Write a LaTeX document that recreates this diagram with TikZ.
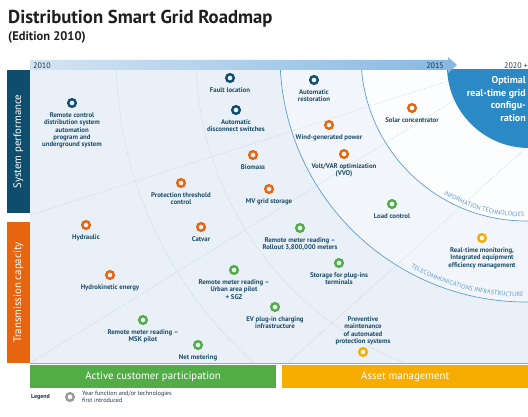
\documentclass[tikz,border=0pt]{standalone}
\usepackage{fontspec}
\setmainfont{PT Sans}
\usetikzlibrary{positioning, calc, decorations.text}

\definecolor{gridteal}{HTML}{0E4E6C}
\definecolor{gridorange}{HTML}{E8650F}
\definecolor{gridgreen}{HTML}{52AD46}
\definecolor{gridyellow}{HTML}{F7AC00}
\definecolor{gridblue}{HTML}{2B8AC6}
\definecolor{arcblue}{HTML}{5F9DD0}
\definecolor{paleblue}{HTML}{E9F0F7}
\definecolor{midpale}{HTML}{F2F6FB}
\definecolor{innerwhite}{HTML}{FCFDFE}
\definecolor{faint}{HTML}{BCCCDB}
\definecolor{labeltext}{HTML}{1D4E6A}
\definecolor{yeartext}{HTML}{1F3446}
\definecolor{barlight}{HTML}{D3E5F4}
\definecolor{bardark}{HTML}{86B8E2}
\definecolor{legendgray}{HTML}{9A9A9A}

\begin{document}
\begin{tikzpicture}[x=1pt, y=-1pt, node distance=4.5pt,
  every node/.style={inner sep=0pt},
  ring/.style={circle, draw=#1, line width=2.4pt, minimum size=7.6pt},
  tag/.style={font=\bfseries\fontsize{6.8}{7.3}\selectfont, text=labeltext, align=center},
  band/.style={font=\fontsize{10.8}{12}\selectfont, text=white, minimum height=23pt},
  year/.style={font=\fontsize{8}{9}\selectfont, text=yeartext},
  faintline/.style={draw=faint, line width=0.5pt, densely dotted},
  itline/.style={draw=arcblue, line width=0.7pt}]
  \useasboundingbox (0,0) rectangle (528,417);

  % title
  \node[anchor=base west, font=\bfseries\fontsize{18.7}{22}\selectfont, text=black!88] (title) at (8,23.5) {Distribution Smart Grid Roadmap};
  \node[anchor=base west, font=\bfseries\fontsize{12.5}{15}\selectfont, text=black!88] (edition) at (8,41) {(Edition 2010)};

  % background field, rings of the roadmap
  \coordinate (hub) at (526,56);
  \begin{scope}
    \clip (30,70) rectangle (528,363);
    \fill[paleblue] (30,70) rectangle (528,363);
    \fill[midpale] (hub) circle[radius=246];
    \fill[innerwhite] (hub) circle[radius=165];
    \draw[faintline] (hub) circle[radius=330];
    \draw[faintline] (hub) circle[radius=410];
    \draw[faintline] (30,215) -- (hub);
    \draw[faintline] (30,363) -- (hub);
    \draw[faintline] (288,363) -- (528,146);
    \draw[itline] (hub) circle[radius=165];
    \draw[itline] (hub) circle[radius=246];
    \fill[gridblue] (529,66) circle[radius=82];
  \end{scope}
  \draw[black!35, line width=0.6pt] (30,363.3) -- (528,363.3);

  \path[decorate, decoration={text along path, text align=right,
    text={|\fontsize{6.3}{7}\selectfont\color{arcblue}|INFORMATION TECHNOLOGIES}}]
    ($(hub)+(122:161)$) arc[start angle=122, end angle=90.6, radius=161];
  \path[decorate, decoration={text along path, text align=right,
    text={|\fontsize{6.3}{7}\selectfont\color{arcblue}|TELECOMMUNICATIONS INFRASTRUCTURE}}]
    ($(hub)+(120:241)$) arc[start angle=120, end angle=90.6, radius=241];

  \node[anchor=north east, align=right, text=white, font=\bfseries\fontsize{10}{12.8}\selectfont] (optimal) at (526,76) {Optimal\\real-time grid\\configu-\\ration};

  % timeline
  \shade[left color=barlight, right color=bardark] (30,60) -- (448,60) -- (448,57) -- (457,65) -- (448,73) -- (448,70) -- (30,70) -- cycle;
  \node[year, anchor=base west] (y2010) at (33,68.3) {2010};
  \node[year, anchor=base east] (y2015) at (444,68.3) {2015};
  \node[year, anchor=base east] (y2020) at (528,68.3) {2020 +};

  % side and bottom bands
  \node[band, fill=gridteal, rotate=90, minimum width=143pt] (sysperf) at (18.5,141.5) {System performance};
  \node[band, fill=gridorange, rotate=90, minimum width=141pt] (transcap) at (18.5,292.5) {Transmission capacity};
  \node[band, fill=gridgreen, anchor=north west, minimum width=246pt] (active) at (30,365) {Active customer participation};
  \node[band, fill=gridyellow, anchor=north west, minimum width=246pt] (asset) at (282,365) {Asset management};

  % system performance
  \node[ring=gridteal] (rcontrol) at (72,103) {};
  \node[tag, below=of rcontrol] (rcontroltxt) {Remote control\\distribution system\\automation\\program and\\underground system};
  \node[ring=gridteal] (fault) at (230,78) {};
  \node[tag, below=of fault] (faulttxt) {Fault location};
  \node[ring=gridteal] (disconnect) at (236,110) {};
  \node[tag, below=of disconnect] (disconnecttxt) {Automatic\\disconnect switches};
  \node[ring=gridteal] (restore) at (314,80) {};
  \node[tag, below=of restore] (restoretxt) {Automatic\\restoration};

  % transmission capacity
  \node[ring=gridorange] (biomass) at (253,155) {};
  \node[tag, below=of biomass] (biomasstxt) {Biomass};
  \node[ring=gridorange] (protect) at (181,183) {};
  \node[tag, below=of protect] (protecttxt) {Protection threshold\\control};
  \node[ring=gridorange] (mvgrid) at (269,189) {};
  \node[tag, below=of mvgrid] (mvgridtxt) {MV grid storage};
  \node[ring=gridorange] (hydraulic) at (86,225) {};
  \node[tag, below=of hydraulic] (hydraulictxt) {Hydraulic};
  \node[ring=gridorange] (catvar) at (201,227) {};
  \node[tag, below=of catvar] (catvartxt) {Catvar};
  \node[ring=gridorange] (hydrokin) at (110,275) {};
  \node[tag, below=of hydrokin] (hydrokintxt) {Hydrokinetic energy};
  \node[ring=gridorange] (wind) at (329,125) {};
  \node[tag, below=of wind] (windtxt) {Wind-generated power};
  \node[ring=gridorange] (volt) at (344,154) {};
  \node[tag, below=of volt] (volttxt) {Volt/VAR optimization\\(VVO)};
  \node[ring=gridorange] (solar) at (412,108) {};
  \node[tag, below=of solar] (solartxt) {Solar concentrator};

  % customer participation
  \node[ring=gridgreen] (rollout) at (300,228) {};
  \node[tag, below=of rollout] (rollouttxt) {Remote meter reading --\\Rollout 3,800,000 meters};
  \node[ring=gridgreen] (urban) at (234,270) {};
  \node[tag, below=of urban] (urbantxt) {Remote meter reading --\\Urban area pilot\\+ SGZ};
  \node[ring=gridgreen] (ev) at (275,307) {};
  \node[tag, below=of ev] (evtxt) {EV plug-in charging\\infrastructure};
  \node[ring=gridgreen] (msk) at (143,320) {};
  \node[tag, below=of msk] (msktxt) {Remote meter reading --\\MSK pilot};
  \node[ring=gridgreen] (netmeter) at (198,345) {};
  \node[tag, below=of netmeter] (netmetertxt) {Net metering};
  \node[ring=gridgreen] (storage) at (339,263) {};
  \node[tag, below=of storage] (storagetxt) {Storage for plug-ins\\terminals};
  \node[ring=gridgreen] (load) at (392,204) {};
  \node[tag, below=of load] (loadtxt) {Load control};

  % asset management
  \node[ring=gridyellow] (realtime) at (482,238) {};
  \node[tag, below=of realtime] (realtimetxt) {Real-time monitoring,\\Integrated equipment\\efficiency management};
  \node[ring=gridyellow] (preventive) at (363,352) {};
  \node[tag, above=2pt of preventive] (preventivetxt) {Preventive\\maintenance\\of automated\\protection systems};

  % legend
  \node[anchor=west, font=\bfseries\fontsize{6}{7}\selectfont, text=yeartext] (legend) at (31,397) {Legend};
  \node[ring=legendgray] (legendring) at (70,397) {};
  \node[anchor=west, align=left, font=\fontsize{6.2}{6.8}\selectfont, text=yeartext, right=7pt of legendring] (legendtxt) {Year function and/or technologies\\first introduced};
\end{tikzpicture}
\end{document}
